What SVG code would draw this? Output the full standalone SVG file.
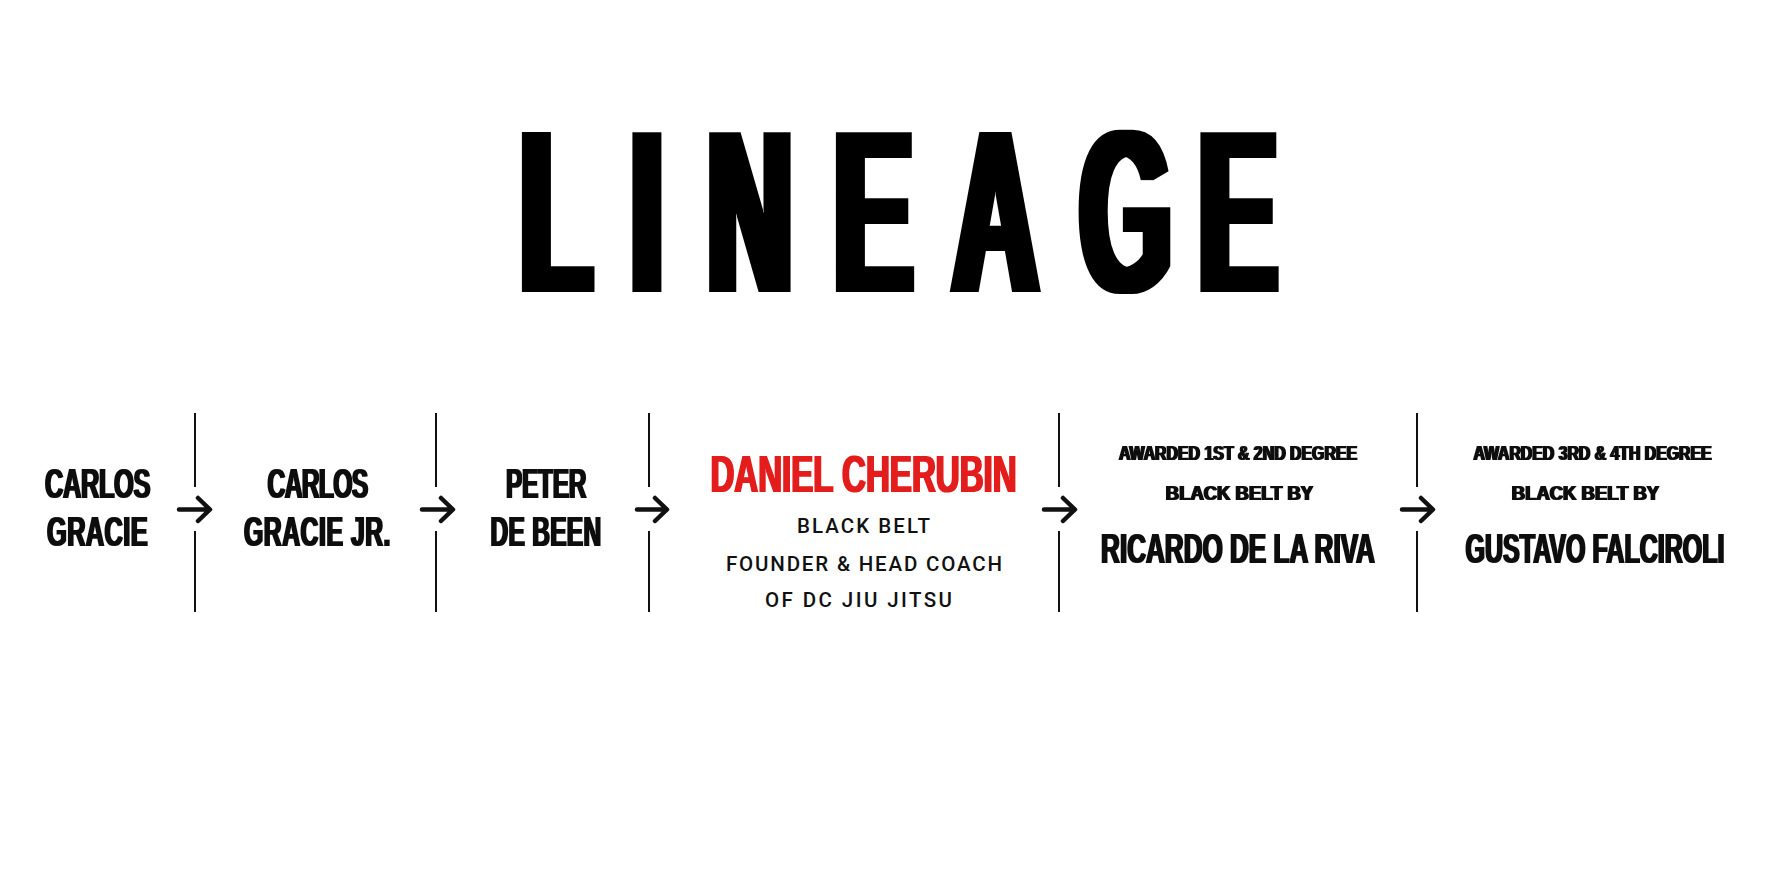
<svg xmlns="http://www.w3.org/2000/svg" width="1774" height="887" viewBox="0 0 1774 887">
  <defs>
    <filter id="fatXL" x="-5%" y="-5%" width="110%" height="110%"><feMorphology operator="dilate" radius="5.6 0"/></filter>
    <filter id="fatM" x="-5%" y="-10%" width="110%" height="120%"><feMorphology operator="dilate" radius="1.4 0"/></filter>
    <filter id="fatS" x="-5%" y="-10%" width="110%" height="120%"><feMorphology operator="dilate" radius="0.6 0"/></filter>
    <style>
      .cond { font-family: "Liberation Sans", Arial, sans-serif; font-weight: bold; fill: #111; text-anchor: middle; }
      .name { font-size: 43px; }
      .red { fill: #e31b1b; font-size: 52px; }
      .small { font-size: 21px; }
      .big { font-size: 43px; }
      .track { font-family: Roboto, "Liberation Sans", Arial, sans-serif; font-weight: 500; font-size: 20.5px; fill: #111; text-anchor: middle; }
      .sep { stroke: #111; stroke-width: 2; fill: none; }
      .arrow { stroke: #111; stroke-width: 4.5; fill: none; stroke-linecap: round; stroke-linejoin: round; }
    </style>
  </defs>
  <rect width="1774" height="887" fill="#fff"/>

  <g id="title" filter="url(#fatXL)">
    <text y="292" transform="scale(0.509 1)" font-family="Liberation Sans, Arial, sans-serif" font-weight="bold" font-size="232" fill="#000"><tspan x="1021.5">L</tspan><tspan x="1238.6">I</tspan><tspan x="1389.5">N</tspan><tspan x="1638.4">E</tspan><tspan x="1871.7">A</tspan><tspan x="2121.5">G</tspan><tspan x="2354.5">E</tspan></text>
  </g>

  <g id="node-carlos-gracie" filter="url(#fatM)">
    <text class="cond name" transform="translate(97.5 0) scale(0.591 1)"><tspan x="0" y="498.5" letter-spacing="-0.67">CARLOS</tspan><tspan x="0" y="546.5" letter-spacing="0.6">GRACIE</tspan></text>
  </g>

  <g id="node-carlos-gracie-jr" filter="url(#fatM)">
    <text class="cond name" transform="translate(317.5 0) scale(0.5756 1)"><tspan x="0" y="498.5" letter-spacing="-1.31">CARLOS</tspan><tspan x="0" y="546.5" letter-spacing="0.94">GRACIE JR.</tspan></text>
  </g>

  <g id="node-peter-de-been" filter="url(#fatM)">
    <text class="cond name" transform="translate(546 0) scale(0.5703 1)"><tspan x="0" y="498.5" letter-spacing="-0.61">PETER</tspan><tspan x="0" y="546.5" letter-spacing="0.51">DE BEEN</tspan></text>
  </g>

  <g id="node-daniel-cherubin">
    <g filter="url(#fatM)">
      <text class="cond red" transform="translate(863.5 492) scale(0.636 1)">DANIEL CHERUBIN</text>
    </g>
    <text class="track" x="863.5" y="533" textLength="133">BLACK BELT</text>
    <text class="track" x="864" y="571" textLength="276">FOUNDER &amp; HEAD COACH</text>
    <text class="track" x="858.5" y="607" textLength="187">OF DC JIU JITSU</text>
  </g>

  <g id="node-ricardo-de-la-riva">
    <g filter="url(#fatS)">
      <text class="cond small" transform="translate(1238 460) scale(0.756 1)">AWARDED 1ST &amp; 2ND DEGREE</text>
      <text class="cond small" transform="translate(1239.5 500) scale(0.88 1)">BLACK BELT BY</text>
    </g>
    <g filter="url(#fatM)">
      <text class="cond big" transform="translate(1238 563) scale(0.607 1)">RICARDO DE LA RIVA</text>
    </g>
  </g>

  <g id="node-gustavo-falciroli">
    <g filter="url(#fatS)">
      <text class="cond small" transform="translate(1592.5 460) scale(0.754 1)">AWARDED 3RD &amp; 4TH DEGREE</text>
      <text class="cond small" transform="translate(1585.5 500) scale(0.88 1)">BLACK BELT BY</text>
    </g>
    <g filter="url(#fatM)">
      <text class="cond big" transform="translate(1595 563) scale(0.582 1)">GUSTAVO FALCIROLI</text>
    </g>
  </g>

  <g id="connectors">
    <path class="sep" d="M195 413V487M195 531V612"/>
    <path class="sep" d="M436 413V487M436 531V612"/>
    <path class="sep" d="M649 413V487M649 531V612"/>
    <path class="sep" d="M1059 413V487M1059 531V612"/>
    <path class="sep" d="M1417 413V487M1417 531V612"/>
    <path class="arrow" d="M179 509.5H209M198 498L210 509.5L198 521"/>
    <path class="arrow" d="M422 509.5H452M441 498L453 509.5L441 521"/>
    <path class="arrow" d="M637 509.5H666M655 498L667 509.5L655 521"/>
    <path class="arrow" d="M1044 509.5H1074M1063 498L1075 509.5L1063 521"/>
    <path class="arrow" d="M1402 509.5H1432M1421 498L1433 509.5L1421 521"/>
  </g>
</svg>
